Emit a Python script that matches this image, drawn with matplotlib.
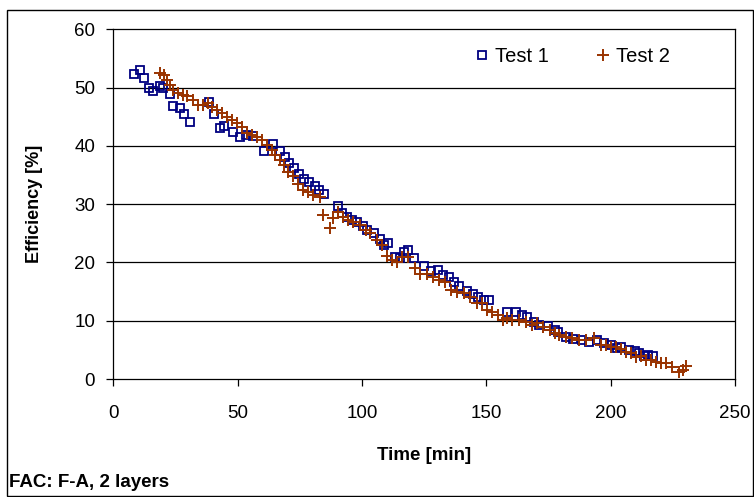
import matplotlib

matplotlib.use("Agg")
import matplotlib.pyplot as plt
from matplotlib.patches import Rectangle

plt.rcParams["font.family"] = ["Liberation Sans", "DejaVu Sans"]

# Test 1 (squares)
t1_time = [8.4, 10.8, 12.4, 14.4, 16.1, 18.9, 20.1, 22.9, 24.1, 26.9, 28.5, 30.9,
           38.5, 40.5, 42.9, 44.5, 48.2, 51.0, 53.5, 56.2, 60.6, 64.2, 67.0, 69.0,
           70.8, 72.6, 74.6, 76.8, 78.9, 81.1, 82.7, 84.7, 90.3, 91.9, 93.9, 95.9,
           97.9, 100.3, 101.9, 104.7, 107.1, 108.7, 110.4, 113.2, 115.2, 116.8,
           118.4, 120.8, 124.8, 127.6, 130.4, 132.4, 134.8, 137.2, 139.2, 142.1,
           144.5, 146.5, 148.9, 150.9, 158.5, 162.1, 164.5, 166.5, 169.3, 171.3,
           174.6, 177.4, 179.0, 182.2, 185.0, 188.6, 191.4, 194.6, 197.4, 200.2,
           202.5, 204.3, 207.5, 209.8, 211.5, 213.5, 215.1, 217.0]
t1_eff = [52.4, 53.0, 51.7, 50.0, 49.4, 50.3, 50.0, 48.9, 46.9, 46.5, 45.5, 44.1,
          47.6, 45.5, 43.1, 43.4, 42.4, 41.5, 41.9, 41.7, 39.1, 40.3, 39.1, 38.1,
          37.0, 36.2, 35.2, 34.3, 33.8, 33.1, 32.4, 31.8, 29.7, 28.5, 27.8, 27.3,
          27.0, 26.3, 25.6, 25.1, 24.0, 23.0, 23.3, 20.9, 20.8, 21.8, 22.1, 20.8,
          19.4, 18.5, 18.7, 17.9, 17.5, 16.7, 16.0, 15.1, 14.6, 14.1, 13.6, 13.6,
          11.5, 11.5, 11.0, 10.6, 9.8, 9.3, 9.1, 8.4, 8.1, 7.2, 6.9, 6.7, 6.4, 6.7,
          6.2, 5.8, 5.3, 5.5, 5.0, 4.8, 4.5, 4.0, 4.1, 3.9]

# Test 2 (crosses)
t2_time = [18.9, 20.5, 21.7, 22.9, 24.1, 26.1, 28.1, 29.7, 32.1, 34.1, 36.1, 38.1,
           39.7, 41.7, 43.7, 45.7, 47.8, 49.8, 51.8, 53.8, 55.8, 57.8, 59.8, 61.8,
           63.8, 65.0, 67.0, 68.6, 70.2, 72.2, 74.2, 76.2, 78.2, 80.3, 83.1, 84.3,
           87.1, 88.3, 90.3, 92.3, 94.3, 96.3, 99.1, 101.5, 103.1, 105.9, 107.9,
           110.0, 112.0, 114.0, 116.0, 118.4, 121.2, 123.2, 126.0, 128.4, 130.8,
           133.2, 136.0, 138.4, 140.9, 143.3, 146.1, 148.1, 150.1, 152.1, 154.5,
           156.5, 158.5, 160.5, 163.3, 166.1, 168.5, 170.5, 172.6, 175.4, 177.4,
           179.4, 182.2, 184.6, 187.4, 190.2, 193.4, 196.2, 198.2, 200.2, 202.2,
           204.3, 206.3, 208.3, 210.3, 212.3, 214.3, 216.3, 218.3, 220.3, 222.3,
           224.7, 227.5, 229.1, 230.3]
t2_eff = [52.5, 52.2, 51.3, 50.5, 49.6, 49.1, 48.8, 48.6, 47.9, 47.0, 47.0, 47.4,
          46.7, 46.2, 45.7, 45.0, 44.5, 43.9, 43.3, 42.2, 41.9, 41.5, 41.0, 40.2,
          39.3, 38.5, 37.6, 36.7, 35.6, 34.8, 33.5, 32.4, 32.1, 31.6, 31.2, 28.2,
          25.9, 27.6, 28.7, 27.8, 27.3, 27.0, 26.4, 25.6, 25.1, 23.9, 23.0,
          21.1, 20.4, 20.1, 20.9, 20.9, 19.1, 18.0, 18.0, 17.5, 17.0,
          16.7, 15.3, 14.9, 14.8, 14.1, 13.0, 13.0, 11.8, 11.5, 11.0,
          10.1, 10.5, 10.1, 10.1, 9.8, 9.3, 9.6, 8.9, 8.4, 7.9,
          7.6, 7.2, 7.0, 6.7, 6.7, 7.0, 5.8, 5.8, 5.5, 5.5,
          5.2, 4.6, 4.5, 3.8, 3.9, 3.3, 3.3, 2.9, 2.7, 2.7,
          2.1, 1.2, 1.5, 2.2]

x_ticks = [0, 50, 100, 150, 200, 250]
y_ticks = [0, 10, 20, 30, 40, 50, 60]

blue = "#000080"
brown = "#993300"

fig = plt.figure(figsize=(7.54, 4.97), dpi=100)
ax = fig.add_axes([0.150, 0.2374, 0.825, 0.7036])

# horizontal gridlines (inner only, the frame covers 0 and 60)
for y in y_ticks[1:-1]:
    ax.axhline(y, color="black", lw=0.9, zorder=0)

ax.plot(t1_time, t1_eff, ls="none", marker="s", ms=5.5, mfc="none", mec=blue,
        mew=1.3, label="Test 1")
ax.plot(t2_time, t2_eff, ls="none", marker="+", ms=9, mec=brown, mew=1.4,
        label="Test 2")

ax.set_xlim(0, 250)
ax.set_ylim(0, 60)
ax.set_xticks(x_ticks)
ax.set_yticks(y_ticks)
ax.tick_params(direction="out", length=5, width=0.9, labelsize=13.5)
ax.tick_params(axis="x", pad=14)
ax.tick_params(axis="y", pad=8)
for s in ax.spines.values():
    s.set_linewidth(0.9)

ax.set_xlabel("Time [min]", fontsize=13.5, fontweight="bold", labelpad=18)
ax.set_ylabel("Efficiency [%]", fontsize=13, fontweight="bold", labelpad=22)

ax.legend(loc="center left", ncol=2, frameon=False, fontsize=14.5,
          handlelength=0.6, handletextpad=0.35, columnspacing=2.4,
          borderaxespad=0, bbox_to_anchor=(0.57, 0.921))

fig.text(0.012, 0.012, "FAC: F-A, 2 layers", fontsize=13.5, fontweight="bold",
         ha="left", va="bottom")
fig.patches.append(Rectangle((0.009, 0.003), 0.99, 0.977, transform=fig.transFigure,
                             fill=False, ec="black", lw=1.0))

fig.savefig("out.png", dpi=100)
